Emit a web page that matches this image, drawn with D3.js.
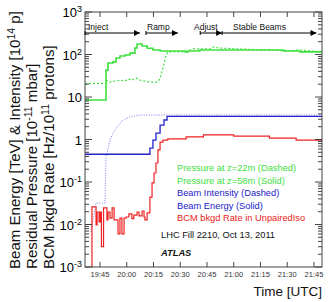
<!DOCTYPE html>
<html>
<head>
<meta charset="utf-8">
<title>LHC Fill 2210</title>
<script src="https://cdn.jsdelivr.net/npm/d3@7"></script>
<style>
  body { margin: 0; background: #fff; }
  text { font-family: "Liberation Sans", Arial, sans-serif; }
</style>
</head>
<body>
<script>
// time = minutes after 18:00 UTC
var timeTicks = ["19:45", "20:00", "20:15", "20:30", "20:45", "21:00", "21:15", "21:30", "21:45"];
var yTicks = [1e-3, 1e-2, 1e-1, 1, 10, 100, 1000];

var phases = [
  ["Inject", 96.6, 127.4],
  ["Ramp", 130.8, 148.7],
  ["Adjust", 161.2, 173.5],
  ["Stable Beams", 173.5, 226.4]
];

// pressure at z=58m (solid)
var press58 = [[96.6, 8.5], [108.4, 43], [109.5, 63], [112.3, 67], [114, 83], [116.2, 92], [119, 97],
  [121.8, 108], [124.6, 142], [125.8, 177], [128.6, 158], [131.5, 140], [134.7, 128], [138.7, 121],
  [152.7, 115], [154.4, 121], [161, 128], [198.7, 128], [208, 121], [217, 115], [229.5, 108]];

// pressure at z=22m (dashed)
var press22 = [[96.6, 21], [108.3, 21], [108.4, 25], [110.6, 22.5], [113.4, 23.6], [116.2, 25], [119, 23.6],
  [120.7, 26.5], [123, 25], [125.2, 28], [127.4, 25], [130.2, 23.6], [133, 22.5], [137, 22.5],
  [138.7, 26.5], [140.3, 48], [142, 92], [143.1, 115], [152.7, 115], [157.2, 135], [166.7, 135],
  [168.4, 150], [172.3, 142], [183.5, 135], [197.5, 128], [211.6, 121], [217, 128], [229.5, 115]];

// beam intensity (dashed)
var intensity = [[100, 0.0067], [101.6, 0.0167], [102.8, 0.032], [107.8, 0.032], [108.4, 0.43], [109, 0.48],
  [110.6, 0.97], [112.3, 1.42], [114.5, 1.97], [117.9, 2.88], [121.8, 3.38], [127.4, 3.77], [229.5, 3.77]];

// beam energy (solid)
var energy = [[96.6, 0.45], [131.4, 0.45], [133, 0.63], [134.7, 0.97], [136.4, 1.42], [138.7, 2.19],
  [140.9, 2.88], [142.6, 3.5], [229.5, 3.5]];

// BCM background rate in UnpairedIso
var bcm = [[100.5, 0.001], [100.5, 0.026], [102.8, 0.0098], [103.4, 0.0197], [104.5, 0.0115], [105.2, 0.0197],
  [105.8, 0.003], [107, 0.0245], [108.9, 0.0128], [109.5, 0.0197], [110.6, 0.0142], [111.8, 0.0245],
  [112.9, 0.0128], [115.1, 0.006], [116.2, 0.0142], [117.3, 0.006], [118.5, 0.0142], [119.6, 0.015],
  [121.2, 0.0177], [122.9, 0.0138], [124, 0.0167], [125.8, 0.0197], [126.9, 0.016], [128.6, 0.0208],
  [129.7, 0.015], [130.2, 0.0128], [131.4, 0.0187], [133, 0.044], [134.2, 0.095], [135.3, 0.163],
  [136.4, 0.28], [137.5, 0.57], [138.7, 0.87], [140.3, 0.97], [143, 1.03], [153.3, 1.15], [163, 1.28],
  [180, 1.2], [200, 1.08], [215, 0.97], [229.5, 0.87]];

var legendLines = [
  ["Pressure at z=22m (Dashed)", "#3ee03e"],
  ["Pressure at z=58m (Solid)", "#3ee03e"],
  ["Beam Intensity (Dashed)", "#2222cc"],
  ["Beam Energy (Solid)", "#2222cc"],
  ["BCM bkgd Rate in UnpairedIso", "#ee2222"]
];

var width = 328, height = 302;
var L = 85, R = 322, T = 12, B = 267;

var svg = d3.select("body").append("svg").attr("width", width).attr("height", height);

function toMin(s) { var p = s.split(":"); return (+p[0] - 18) * 60 + (+p[1]); }

var x = d3.scaleLinear().domain([96.6, 229.5]).range([L, R]);
var y = d3.scaleLog().domain([1e-3, 1e3]).range([B, T]);

svg.append("clipPath").attr("id", "clip").append("rect")
  .attr("x", L).attr("y", T).attr("width", R - L).attr("height", B - T);

var plot = svg.append("g").attr("clip-path", "url(#clip)");

function draw(data, color, w, dash, curve) {
  var line = d3.line().x(function(d) { return x(d[0]); }).y(function(d) { return y(d[1]); }).curve(curve);
  plot.append("path").attr("d", line(data)).attr("fill", "none")
    .attr("stroke", color).attr("stroke-width", w).attr("stroke-dasharray", dash);
}

draw(intensity, "#7777ee", 1, "1,1.5", d3.curveLinear);
draw(energy, "#2222cc", 1.3, null, d3.curveStepAfter);
draw(press22, "#3ee03e", 1.2, "2,2", d3.curveLinear);
draw(press58, "#3ee03e", 1.6, null, d3.curveStepAfter);
draw(bcm, "#ee2222", 1.2, null, d3.curveStepAfter);

// frame
svg.append("rect").attr("x", L).attr("y", T).attr("width", R - L).attr("height", B - T)
  .attr("fill", "none").attr("stroke", "#444").attr("stroke-width", 1);

// log ticks (left and right, inward)
var minor = [];
for (var e = -3; e < 3; e++) for (var k = 2; k < 10; k++) minor.push(k * Math.pow(10, e));
var tk = svg.append("g").attr("stroke", "#444").attr("stroke-width", 1);
yTicks.forEach(function(v) {
  tk.append("line").attr("x1", L).attr("x2", L + 7).attr("y1", y(v)).attr("y2", y(v));
  tk.append("line").attr("x1", R).attr("x2", R - 7).attr("y1", y(v)).attr("y2", y(v));
});
minor.forEach(function(v) {
  tk.append("line").attr("x1", L).attr("x2", L + 4).attr("y1", y(v)).attr("y2", y(v));
  tk.append("line").attr("x1", R).attr("x2", R - 4).attr("y1", y(v)).attr("y2", y(v));
});
timeTicks.forEach(function(t) {
  var xx = x(toMin(t));
  tk.append("line").attr("x1", xx).attr("x2", xx).attr("y1", B).attr("y2", B - 5);
  tk.append("line").attr("x1", xx).attr("x2", xx).attr("y1", T).attr("y2", T + 5);
});

// x tick labels
svg.selectAll(".xl").data(timeTicks).enter().append("text")
  .attr("x", function(d) { return x(toMin(d)); }).attr("y", 277)
  .attr("text-anchor", "middle").attr("font-size", 7.5).attr("fill", "#333")
  .text(function(d) { return d; });

// y tick labels
yTicks.forEach(function(v) {
  var ex = Math.round(Math.log10(v));
  var t = svg.append("text").attr("x", 82).attr("y", y(v) + 5)
    .attr("text-anchor", "end").attr("font-size", 13);
  if (ex === 0) t.text("1");
  else if (ex === 1) t.text("10");
  else {
    t.append("tspan").text("10");
    t.append("tspan").attr("dy", -5).attr("font-size", 9).text(ex);
  }
});

// axis titles, sized so the first line runs from the bottom to the top of the frame
var titles = [
  [20, ["Beam Energy [TeV] & Intensity [10", "14", " p]"]],
  [37, ["Residual Pressure [10", "-11", " mbar]"]],
  [54, ["BCM bkgd Rate [Hz/10", "11", " protons]"]]
];
var titleNodes = titles.map(function(tl) {
  var t = svg.append("text").attr("transform", "translate(" + tl[0] + "," + 269 + ") rotate(-90)")
    .attr("font-size", 13).attr("fill", "#111");
  t.append("tspan").text(tl[1][0]);
  t.append("tspan").attr("dy", -5).attr("font-size", 9).text(tl[1][1]);
  t.append("tspan").attr("dy", 5).text(tl[1][2]);
  return t;
});
var fs = 13 * 258 / titleNodes[0].node().getComputedTextLength();
titleNodes.forEach(function(t) {
  t.attr("font-size", fs);
  t.selectAll("tspan").filter(function(d, i) { return i === 1; }).attr("font-size", fs * 0.7);
});
svg.append("text").attr("x", 322).attr("y", 296).attr("text-anchor", "end")
  .attr("font-size", 13.5).attr("fill", "#111").text("Time [UTC]");

// phase arrows
svg.append("defs").append("marker").attr("id", "arr").attr("viewBox", "0 0 10 10")
  .attr("refX", 10).attr("refY", 5).attr("markerWidth", 6).attr("markerHeight", 6)
  .attr("markerUnits", "userSpaceOnUse").attr("orient", "auto")
  .append("path").attr("d", "M0,0L10,5L0,10z").attr("fill", "#000");
phases.forEach(function(p) {
  svg.append("line").attr("x1", x(p[1])).attr("x2", x(p[2])).attr("y1", 33).attr("y2", 33)
    .attr("stroke", "#000").attr("stroke-width", 1).attr("marker-end", "url(#arr)");
  svg.append("line").attr("x1", x(p[1])).attr("x2", x(p[1])).attr("y1", 31).attr("y2", 35)
    .attr("stroke", "#000").attr("stroke-width", 1);
});
var phaseText = [["Inject", 88], ["Ramp", 147], ["Adjust", 194], ["Stable Beams", 233]];
phaseText.forEach(function(p) {
  svg.append("text").attr("x", p[1]).attr("y", 30).attr("font-size", 8.5).attr("fill", "#111").text(p[0]);
});

// legend
legendLines.forEach(function(l, i) {
  svg.append("text").attr("x", 177).attr("y", 171 + i * 12.6).attr("font-size", 9.3)
    .attr("fill", l[1]).text(l[0]);
});
svg.append("text").attr("x", 161).attr("y", 238).attr("font-size", 9.3).attr("fill", "#111")
  .text("LHC Fill 2210, Oct 13, 2011");
svg.append("text").attr("x", 161).attr("y", 256).attr("font-size", 9.3).attr("font-weight", "bold")
  .attr("font-style", "italic").attr("fill", "#111").text("ATLAS");
</script>
</body>
</html>
